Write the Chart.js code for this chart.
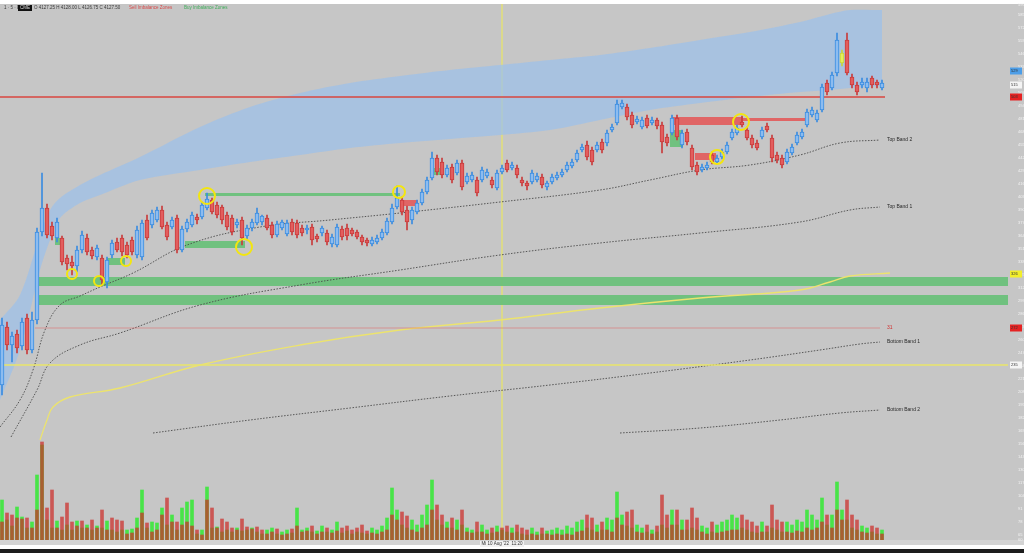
<!DOCTYPE html>
<html>
<head>
<meta charset="utf-8">
<script src="https://cdn.jsdelivr.net/npm/chart.js@4.4.1/dist/chart.umd.min.js"></script>
<style>
  html, body { margin: 0; padding: 0; background: #fff; }
  #wrap { width: 1024px; height: 553px; }
</style>
</head>
<body>
<div id="wrap"><canvas id="graphCanvas" width="1024" height="553"></canvas></div>
<script>
// candles (price units), one per 5-minute bar
const opens = [
  215,273,255,266,254,282,250,280,368,392,
  374,362,362,342,338,334,350,362,350,343,
  342,318,345,358,362,355,360,345,343,380,
  375,380,390,375,373,382,350,371,375,383,
  383,392,400,395,393,385,382,375,380,364,
  372,377,378,382,375,365,372,366,378,377,
  372,370,373,364,367,367,356,355,371,372,
  370,368,363,360,356,358,362,367,378,393,
  400,390,380,388,397,408,422,442,438,425,
  433,427,437,418,420,420,420,424,420,412,
  428,437,432,432,420,417,418,420,423,413,
  418,422,425,430,434,440,450,455,450,450,
  458,457,470,477,493,493,485,478,473,482,
  477,480,475,463,467,482,455,468,452,435,
  430,432,445,438,443,448,462,467,478,470,
  462,457,463,474,462,445,442,438,447,457,
  463,475,485,480,490,517,512,527,537,560,
  523,515,515,512,522,518,512
];
const closes = [
  275,255,264,252,278,250,280,368,392,365,
  364,378,338,336,334,350,365,348,344,352,
  320,340,357,350,348,345,348,370,377,362,
  387,390,373,363,380,350,371,378,385,380,
  395,401,388,385,380,373,368,378,362,372,
  378,387,384,372,365,376,378,377,368,365,
  367,372,360,361,372,358,363,373,363,364,
  366,363,358,357,360,362,368,379,392,402,
  388,378,390,397,408,420,442,428,425,432,
  420,437,413,424,425,407,430,428,415,427,
  432,430,435,425,417,414,427,424,415,417,
  423,425,428,435,438,447,453,443,438,455,
  450,467,473,496,497,483,475,481,480,474,
  480,474,458,457,482,463,467,458,433,428,
  433,435,438,442,448,455,468,472,475,462,
  455,452,470,470,442,440,435,448,453,465,
  468,488,490,487,513,508,525,560,547,527,
  515,508,518,518,515,515,517
];
const highs = [
  282,278,268,270,282,286,288,372,427,396,
  378,382,364,345,344,354,369,366,353,355,
  345,343,360,362,365,358,363,374,380,385,
  390,393,394,378,383,385,374,381,388,386,
  398,407,402,398,395,388,385,381,383,375,
  381,392,385,385,378,379,380,380,381,380,
  375,375,376,366,374,370,366,376,374,376,
  372,370,365,362,363,365,371,382,396,414,
  403,394,393,400,411,423,448,445,442,435,
  436,440,440,427,428,423,433,431,423,430,
  435,440,438,435,423,419,430,427,426,419,
  426,428,431,438,441,450,456,459,453,458,
  461,470,476,500,500,496,488,484,483,485,
  483,482,478,466,485,485,470,471,455,438,
  436,438,448,445,451,458,471,475,484,473,
  465,460,473,477,465,448,445,451,456,468,
  471,491,493,490,516,520,528,567,550,567,
  526,518,522,522,524,520,520
];
const lows = [
  205,250,238,247,250,246,247,276,364,362,
  360,358,335,330,325,328,347,345,341,340,
  315,312,342,348,344,342,345,342,340,360,
  372,378,371,360,371,347,348,368,373,376,
  381,390,386,382,376,370,365,372,355,360,
  369,375,375,370,362,363,370,364,365,362,
  364,366,355,358,364,355,353,353,360,360,
  364,361,355,354,354,356,360,365,376,391,
  385,370,376,386,395,406,420,425,422,423,
  417,425,410,416,418,404,418,422,412,410,
  426,428,430,422,414,410,416,418,412,410,
  416,420,423,428,432,438,448,440,435,448,
  447,454,468,475,491,480,472,476,471,472,
  475,471,447,454,465,460,452,455,430,425,
  428,430,436,436,441,446,460,465,473,460,
  452,450,461,468,438,437,432,436,445,455,
  461,473,483,478,488,505,510,524,534,525,
  512,505,512,508,512,512,510
];
const highlightCandle = 168;

// volume split into buy / sell per bar
const buyVolume = [
  40,20,14,33,23,12,18,65,95,20,
  12,19,10,15,10,19,12,15,10,14,
  12,19,10,8,10,10,11,22,50,12,
  18,17,32,15,25,10,32,38,40,6,
  10,53,12,13,8,10,8,12,9,10,
  12,8,6,10,12,6,8,10,7,32,
  10,12,8,9,14,8,10,18,7,9,
  6,8,7,6,12,10,14,22,52,30,
  15,12,20,15,25,35,60,20,15,18,
  12,20,15,12,10,8,15,10,7,14,
  10,8,12,8,6,5,12,8,6,9,
  10,12,10,14,12,18,20,12,10,15,
  10,22,20,48,25,14,12,15,12,8,
  10,8,15,12,30,15,20,10,12,10,
  14,12,8,15,18,20,25,22,12,10,
  8,7,18,8,12,10,8,18,15,20,
  18,30,25,20,42,15,25,58,30,20,
  12,10,14,12,8,6,10
];
const sellVolume = [
  18,27,25,22,21,22,12,30,98,32,
  50,12,23,37,18,14,19,12,20,12,
  30,10,22,20,19,6,7,12,27,17,
  8,10,25,42,18,18,15,18,14,10,
  5,40,32,12,21,18,12,10,21,13,
  11,13,10,6,8,11,5,6,11,14,
  8,9,14,6,8,12,7,9,12,14,
  10,12,15,9,7,6,8,10,25,20,
  28,24,10,8,12,15,30,35,25,12,
  22,10,30,8,7,18,8,6,12,8,
  12,14,7,15,12,10,6,5,12,6,
  5,6,5,6,5,8,9,25,22,8,
  18,10,8,22,15,28,30,8,7,15,
  6,14,45,25,15,30,10,20,32,22,
  8,6,18,7,8,9,10,10,25,20,
  18,14,8,14,35,20,18,8,7,9,
  8,12,10,12,18,25,12,30,20,40,
  25,20,8,7,14,12,6
];

// value area band
const bandX = [-0.4,3.6,7.6,9.6,11.6,15.6,19.6,27.6,39.6,49.6,59.6,69.6,79.6,89.6,99.6,109.6,119.6,129.6,139.6,149.6,159.6,165.6,169.6,176];
const bandUpper = [280,305,365,390,402,415,425,443,473,493,507,517,524,530,535,540,545,552,560,568,578,586,590,590];
const bandLower = [200,250,330,360,382,397,405,420,430,438,445,452,457,461,465,470,480,490,497,503,508,510,512,514];

// VWAP and deviation bands
const vwapX = [7.6,9,10.2,13.6,23.6,39.6,59.6,79.6,99.6,119.6,139.6,159.6,165.6,169.6,177.6];
const vwapY = [160,180,193,203,212,235,255,270,280,292,302,310,318,324,327];
const topBand2X = [-0.4,3.6,6.2,8.6,11.6,15.6,19.6,26.2,37,51.6,65.6,79.6,99.6,119.6,129.6,139.6,149.6,159.6,167.6,175.6];
const topBand2Y = [173,200,230,270,295,304,313,327,355,373,380,387,398,410,420,430,435,445,457,460];
const topBand1X = [1.8,7,9.6,15.6,23.6,39.6,59.6,79.6,99.6,119.6,139.6,159.6,169.6,175.6];
const topBand1Y = [163,210,237,255,267,295,315,330,345,357,367,378,390,393];
const bottomBand1X = [30.2,49.6,69.6,89.6,109.6,129.6,149.6,163.6,171.6,175.6];
const bottomBand1Y = [167,180,192,204,215,227,240,250,256,258];
const bottomBand2X = [123.6,139.6,155.6,167.6,175.6];
const bottomBand2Y = [167,172,180,187,190];

// horizontal levels: price, start bar, end bar
const levelPrices = [503, 272, 235];
const levelStarts = [-0.4, 6.6, -0.4];
const levelEnds = [176.6, 175.6, 201.2];

// zones: [startBar, endBar, lowPrice, highPrice]
const greenZones = [
  [7, 201.2, 314, 323],
  [7, 201.2, 295, 305],
  [36.6, 48.6, 352, 359],
  [40.6, 79.6, 404, 407],
  [21, 24.6, 335, 342],
  [10.6, 12.2, 355, 362],
  [86, 88, 425, 432],
  [133.6, 136.2, 453, 470]
];
const redZones = [
  [134, 148.2, 475, 483],
  [148.2, 161, 479, 482],
  [138.6, 142.8, 440, 447],
  [79.6, 83.2, 394, 400]
];

// highlighted swing points
const markerX = [14, 19.4, 24.8, 41, 48.4, 79.4, 143, 147.8];
const markerY = [326, 319, 339, 404, 353, 408, 443, 478];
const markerSize = [5, 5, 5, 8, 8, 6, 7, 8];

// right side labels
const bandLabelText = ['Top Band 2', 'Top Band 1', '31', 'Bottom Band 1', 'Bottom Band 2'];
const bandLabelPrice = [460, 393, 272, 258, 190];
const axisTagPrice = [529, 515, 503, 326, 272, 235];
const axisTagColor = ['#4d9ee8', '#f4f4f4', '#e52222', '#f2ee2a', '#e52222', '#f4f4f4'];

const timeLabels = ['03:00','04:00','05:00','06:00','07:00','08:00','09:00','10:00','11:00','12:00','13:00','14:00','15:00','16:00','17:00','18:00','19:00'];
const cursorIndex = 100;
const cursorText = 'Mi 10 Aug \'22  11:20';

// --- build datasets ---
const isUp = (i) => closes[i] >= opens[i];
const bodyFill = opens.map((o, i) => i === highlightCandle ? '#e4ee5a' : (isUp(i) ? '#8cbcf0' : '#e35d5d'));
const bodyLine = opens.map((o, i) => i === highlightCandle ? '#c8d43a' : (isUp(i) ? '#3a8ce0' : '#c83c3c'));

const toPoints = (xs, ys) => xs.map((x, i) => ({ x: x, y: ys[i] }));

const zoneDataset = (z, color) => ({
  type: 'line',
  data: [{ x: z[0], y: z[3] }, { x: z[1], y: z[3] }],
  borderWidth: 0,
  pointRadius: 0,
  backgroundColor: color,
  fill: { value: z[2] },
  order: 8
});

const dottedLine = (xs, ys) => ({
  type: 'line',
  data: toPoints(xs, ys),
  borderColor: '#4a4a4a',
  borderWidth: 0.9,
  borderDash: [1.5, 1.5],
  pointRadius: 0,
  tension: 0.4,
  fill: false,
  order: 7
});

const datasets = [
  {
    type: 'line',
    data: markerX.map((x, i) => ({ x: x, y: markerY[i] })),
    showLine: false,
    pointRadius: markerSize,
    pointBorderColor: '#f3e60f',
    pointBackgroundColor: 'rgba(0,0,0,0)',
    pointBorderWidth: 2,
    order: 0
  },
  {
    type: 'bar',
    data: opens.map((o, i) => ({ x: i, y: [o, closes[i]] })),
    backgroundColor: bodyFill,
    borderColor: bodyLine,
    borderWidth: 1,
    borderSkipped: false,
    barThickness: 4,
    minBarLength: 1,
    grouped: false,
    order: 1
  },
  {
    type: 'bar',
    data: opens.map((o, i) => ({ x: i, y: [lows[i], highs[i]] })),
    backgroundColor: bodyLine,
    barThickness: 1,
    grouped: false,
    order: 2
  },
  {
    type: 'bar',
    yAxisID: 'yv',
    data: sellVolume.map((v, i) => ({ x: i, y: v })),
    backgroundColor: 'rgba(205,45,40,0.72)',
    barThickness: 3,
    grouped: false,
    order: 3
  },
  {
    type: 'bar',
    yAxisID: 'yv',
    data: buyVolume.map((v, i) => ({ x: i, y: v })),
    backgroundColor: 'rgba(40,235,40,0.8)',
    barThickness: 3,
    grouped: false,
    order: 4
  },
  {
    type: 'line',
    data: [{ x: levelStarts[0], y: levelPrices[0] }, { x: levelEnds[0], y: levelPrices[0] }],
    borderColor: '#d9463f',
    borderWidth: 1.3,
    pointRadius: 0,
    order: 5
  },
  {
    type: 'line',
    data: [{ x: levelStarts[1], y: levelPrices[1] }, { x: levelEnds[1], y: levelPrices[1] }],
    borderColor: 'rgba(225,90,90,0.7)',
    borderWidth: 0.7,
    pointRadius: 0,
    order: 5
  },
  {
    type: 'line',
    data: [{ x: levelStarts[2], y: levelPrices[2] }, { x: levelEnds[2], y: levelPrices[2] }],
    borderColor: '#e9e46a',
    borderWidth: 1.4,
    pointRadius: 0,
    order: 5
  },
  {
    type: 'line',
    data: toPoints(vwapX, vwapY),
    borderColor: '#ece36e',
    borderWidth: 1.3,
    pointRadius: 0,
    tension: 0.4,
    order: 6
  },
  dottedLine(topBand2X, topBand2Y),
  dottedLine(topBand1X, topBand1Y),
  dottedLine(bottomBand1X, bottomBand1Y),
  dottedLine(bottomBand2X, bottomBand2Y),
  ...greenZones.map(z => zoneDataset(z, 'rgba(104,192,120,0.92)')),
  ...redZones.map(z => zoneDataset(z, 'rgba(226,92,92,0.92)')),
  {
    type: 'line',
    data: toPoints(bandX, bandUpper),
    borderWidth: 0,
    pointRadius: 0,
    tension: 0.3,
    backgroundColor: 'rgba(156,192,234,0.72)',
    fill: '+1',
    order: 9
  },
  {
    type: 'line',
    data: toPoints(bandX, bandLower),
    borderWidth: 0,
    pointRadius: 0,
    tension: 0.3,
    fill: false,
    order: 9
  }
];

// backgrounds, cursor, texts and price tags
const decorPlugin = {
  id: 'decor',
  beforeDraw(chart) {
    const { ctx, width, height } = chart;
    ctx.save();
    ctx.fillStyle = '#ffffff';
    ctx.fillRect(0, 0, width, height);
    ctx.fillStyle = '#c6c6c6';
    ctx.fillRect(0, 4, width, 541);
    ctx.fillStyle = '#d4d4d4';
    ctx.fillRect(0, 540, width, 5);
    ctx.fillStyle = '#1c1c1c';
    ctx.fillRect(0, 549, width, 4);
    ctx.restore();
  },
  beforeDatasetsDraw(chart) {
    const { ctx, chartArea, scales } = chart;
    const x = scales.x.getPixelForValue(cursorIndex);
    ctx.save();
    ctx.strokeStyle = 'rgba(236,232,96,0.95)';
    ctx.lineWidth = 1.2;
    ctx.beginPath();
    ctx.moveTo(x, 4);
    ctx.lineTo(x, chartArea.bottom);
    ctx.stroke();
    ctx.restore();
  },
  afterDraw(chart) {
    const { ctx, scales } = chart;
    const xs = scales.x, ys = scales.y;
    ctx.save();
    ctx.textBaseline = 'middle';

    // labels at the end of the bands
    ctx.font = '5px "Liberation Sans", Arial, sans-serif';
    bandLabelText.forEach((t, i) => {
      ctx.fillStyle = t === '31' ? '#d23030' : '#2a2a2a';
      ctx.fillText(t, xs.getPixelForValue(177), ys.getPixelForValue(bandLabelPrice[i]));
    });

    // price tags on the right axis
    axisTagPrice.forEach((p, i) => {
      const y = ys.getPixelForValue(p);
      ctx.fillStyle = axisTagColor[i];
      ctx.fillRect(1010, y - 3.5, 12, 7);
      ctx.fillStyle = '#333';
      ctx.font = '4px "Liberation Sans", Arial, sans-serif';
      ctx.fillText(String(p), 1011, y);
    });

    // header line
    ctx.font = '4.5px "Liberation Sans", Arial, sans-serif';
    ctx.fillStyle = '#3a3a3a';
    ctx.fillText('1 · 5 · ES', 4, 8);
    ctx.fillStyle = '#111';
    ctx.fillRect(18, 5, 14, 6);
    ctx.fillStyle = '#ddd';
    ctx.fillText('CME', 20, 8);
    ctx.fillStyle = '#3a3a3a';
    ctx.fillText('O 4127.25 H 4128.00 L 4126.75 C 4127.50', 34, 8);
    ctx.fillStyle = '#d84a4a';
    ctx.fillText('Sell Imbalance Zones', 129, 8);
    ctx.fillStyle = '#3fae5a';
    ctx.fillText('Buy Imbalance Zones', 184, 8);

    // cursor time label
    const cx = xs.getPixelForValue(cursorIndex);
    ctx.fillStyle = '#f2f2f2';
    ctx.fillRect(cx - 22, 541, 44, 6);
    ctx.fillStyle = '#333';
    ctx.font = '4.5px "Liberation Sans", Arial, sans-serif';
    ctx.textAlign = 'center';
    ctx.fillText(cursorText, cx, 544);
    ctx.restore();
  }
};

new Chart(document.getElementById('graphCanvas').getContext('2d'), {
  type: 'bar',
  data: { datasets: datasets },
  options: {
    responsive: false,
    devicePixelRatio: 1,
    animation: false,
    layout: { autoPadding: false, padding: { top: 5, bottom: 8, left: 0, right: 0 } },
    plugins: { legend: { display: false }, tooltip: { enabled: false } },
    scales: {
      x: {
        type: 'linear',
        offset: false,
        min: -0.4,
        max: 201.2,
        grid: { display: false },
        border: { display: false },
        ticks: {
          stepSize: 12,
          maxRotation: 0,
          autoSkip: false,
          padding: 0,
          color: '#f0f0f0',
          font: { size: 4 },
          callback: (v) => (v >= 0 && v % 12 === 0) ? (timeLabels[v / 12] || '') : ''
        },
        afterFit: (s) => { s.height = 5; s.paddingLeft = 0; s.paddingRight = 0; }
      },
      y: {
        position: 'right',
        min: 60,
        max: 595,
        grid: { display: false },
        border: { display: false },
        ticks: {
          stepSize: 13,
          padding: 2,
          color: '#f2f2f2',
          font: { size: 4 }
        },
        afterFit: (s) => { s.width = 16; s.paddingTop = 0; s.paddingBottom = 0; }
      },
      yv: {
        display: false,
        min: 0,
        max: 535
      }
    }
  },
  plugins: [decorPlugin]
});
</script>
</body>
</html>
